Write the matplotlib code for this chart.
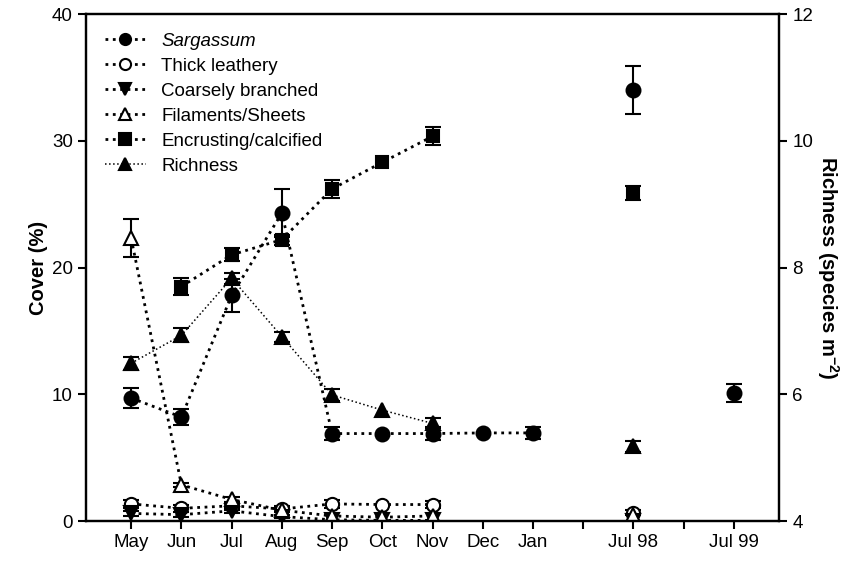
import numpy as np
import matplotlib
matplotlib.use('Agg')
import matplotlib.pyplot as plt
from matplotlib.lines import Line2D

plt.rcParams['font.family'] = ['Liberation Sans', 'DejaVu Sans']
plt.rcParams['mathtext.fontset'] = 'custom'
plt.rcParams['mathtext.rm'] = 'Liberation Sans'
plt.rcParams['mathtext.bf'] = 'Liberation Sans:bold'

nan = np.nan

# sampling dates (blank slots are unlabelled ticks)
months = ['May', 'Jun', 'Jul', 'Aug', 'Sep', 'Oct', 'Nov', 'Dec', 'Jan', '', 'Jul 98', '', 'Jul 99']

# cover (%)
sargassum = [9.7, 8.2, 17.8, 24.3, 6.9, 6.9, 6.9, 6.95, 6.95, nan, 34.0, nan, 10.1]
sargassum_se = [0.8, 0.65, 1.3, 1.9, 0.5, nan, 0.5, nan, 0.45, nan, 1.9, nan, 0.7]
leathery = [1.35, 1.0, 1.2, 0.95, 1.35, 1.3, 1.3, nan, nan, nan, 0.65, nan, nan]
leathery_se = [0.3, 0.25, 0.3, 0.2, 0.3, nan, 0.3, nan, nan, nan, 0.2, nan, nan]
coarse = [0.6, 0.5, 0.8, 0.35, 0.1, 0.05, 0.05, nan, nan, nan, 0.0, nan, nan]
coarse_se = [0.2, 0.2, 0.2, 0.15, nan, nan, nan, nan, nan, nan, nan, nan, nan]
filaments = [22.3, 2.85, 1.7, 0.85, 0.4, 0.3, 0.4, nan, nan, nan, 0.5, nan, nan]
filaments_se = [1.5, 0.15, 0.2, 0.15, nan, nan, nan, nan, nan, nan, nan, nan, nan]
encrusting = [nan, 18.5, 21.0, 22.2, 26.2, 28.3, 30.35, nan, nan, nan, 25.9, nan, nan]
encrusting_se = [nan, 0.65, 0.5, 0.4, 0.7, nan, 0.7, nan, nan, nan, 0.55, nan, nan]

# richness (species m-2)
richness = [6.49, 6.93, 7.83, 6.91, 5.99, 5.75, 5.54, nan, nan, nan, 5.18, nan, nan]
richness_se = [0.1, 0.11, 0.09, 0.08, 0.1, nan, 0.08, nan, nan, nan, 0.09, nan, nan]

legend_labels = ['Sargassum', 'Thick leathery', 'Coarsely branched', 'Filaments/Sheets',
                 'Encrusting/calcified', 'Richness']

x = np.arange(len(months))

fig, ax = plt.subplots(figsize=(8.61, 5.67), dpi=100)
fig.subplots_adjust(left=0.0999, right=0.9048, top=0.9753, bottom=0.0811)
ax2 = ax.twinx()

ebkw = dict(color='black', ecolor='black', elinewidth=1.5, capsize=6, capthick=1.5,
            linestyle=':', linewidth=2, markeredgewidth=1.5, markeredgecolor='black')

ax.errorbar(x, sargassum, yerr=sargassum_se, marker='o', markersize=10,
            markerfacecolor='black', **ebkw)
ax.errorbar(x, leathery, yerr=leathery_se, marker='o', markersize=9.5,
            markerfacecolor='white', **ebkw)
ax.errorbar(x, coarse, yerr=coarse_se, marker='v', markersize=9.5,
            markerfacecolor='black', **ebkw)
ax.errorbar(x, filaments, yerr=filaments_se, marker='^', markersize=9.5,
            markerfacecolor='white', **ebkw)
ax.errorbar(x, encrusting, yerr=encrusting_se, marker='s', markersize=8.5,
            markerfacecolor='black', **ebkw)

rkw = dict(ebkw)
rkw['linewidth'] = 1.1
ax2.errorbar(x, richness, yerr=richness_se, marker='^', markersize=10,
             markerfacecolor='black', **rkw)

ax.set_xlim(-0.9, 12.9)
ax.set_ylim(0, 40)
ax2.set_ylim(4, 12)
ax.set_xticks(x)
ax.set_xticklabels(months)
ax.set_yticks([0, 10, 20, 30, 40])
ax2.set_yticks([4, 6, 8, 10, 12])

for a in (ax, ax2):
    for s in a.spines.values():
        s.set_linewidth(1.6)
    a.tick_params(direction='out', length=5.5, width=1.5, labelsize=13.5, pad=4)

ax.set_ylabel('Cover (%)', fontsize=14.5, fontweight='bold', labelpad=3)
ax2.set_ylabel('Richness (species m$^{\\mathbf{-2}}$)', fontsize=14.5, fontweight='bold',
               rotation=270, labelpad=20)

# legend proxies: marker + dotted line, no error bars
proxy_styles = [('o', 'black', 2), ('o', 'white', 2), ('v', 'black', 2),
                ('^', 'white', 2), ('s', 'black', 2), ('^', 'black', 1.1)]
proxies = [Line2D([], [], color='black', linestyle=':', linewidth=lw, marker=m,
                  markersize=8, markerfacecolor=fc, markeredgecolor='black',
                  markeredgewidth=1.5)
           for m, fc, lw in proxy_styles]

leg = ax.legend(proxies, legend_labels,
                loc='upper left', bbox_to_anchor=(0.0, 1.0), frameon=False, fontsize=13.5,
                handlelength=2.2, handletextpad=0.8, labelspacing=0.42, borderpad=0.7,
                borderaxespad=0.3)
leg.get_texts()[0].set_fontstyle('italic')

fig.savefig('out.png', dpi=100)
